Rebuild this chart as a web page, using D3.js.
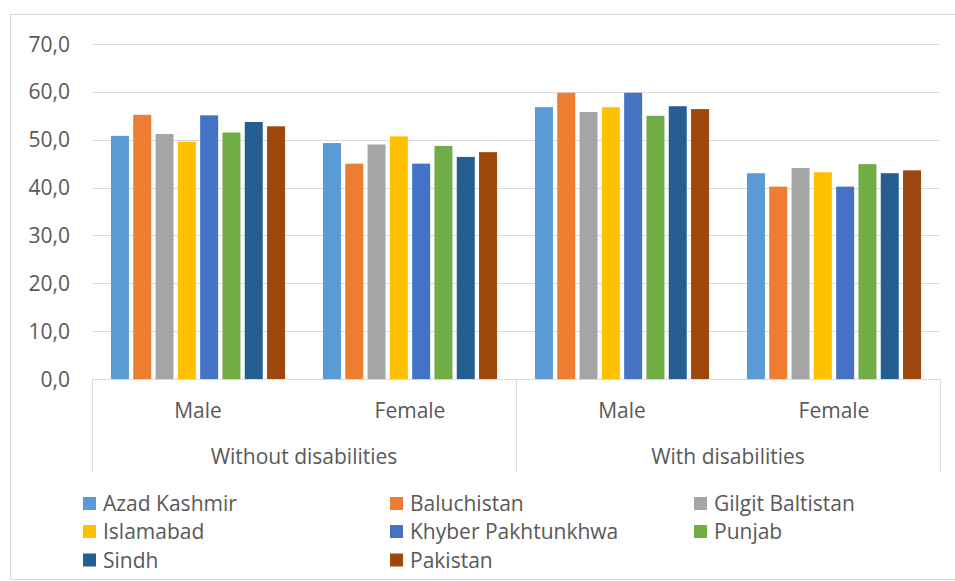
<!DOCTYPE html>
<html>
<head>
<meta charset="utf-8">
<script src="https://cdn.jsdelivr.net/npm/d3@7"></script>
<style>
  html, body { margin: 0; padding: 0; background: #fff; }
  svg { display: block; }
  text { font-family: "Open Sans", sans-serif; fill: #595959; }
</style>
</head>
<body>
<svg id="chart" width="955" height="581"></svg>
<script>
// ---- data ----
const groups = ["Without disabilities", "With disabilities"];
const genders = ["Male", "Female"];
const regions = ["Azad Kashmir", "Baluchistan", "Gilgit Baltistan", "Islamabad",
                 "Khyber Pakhtunkhwa", "Punjab", "Sindh", "Pakistan"];
const colors = ["#5B9BD5", "#ED7D31", "#A5A5A5", "#FFC000", "#4472C4", "#70AD47", "#255E91", "#9E480E"];
// values per region, in category order: [Without-Male, Without-Female, With-Male, With-Female]
const azadKashmir     = [50.8, 49.3, 56.8, 43.0];
const baluchistan     = [55.2, 45.0, 59.8, 40.2];
const gilgitBaltistan = [51.2, 49.0, 55.8, 44.1];
const islamabad       = [49.6, 50.7, 56.8, 43.2];
const khyber          = [55.1, 45.0, 59.8, 40.2];
const punjab          = [51.5, 48.7, 55.0, 44.9];
const sindh           = [53.7, 46.4, 57.0, 43.0];
const pakistan        = [52.8, 47.4, 56.4, 43.6];
const yTicks = [0, 10, 20, 30, 40, 50, 60, 70];

const seriesValues = [azadKashmir, baluchistan, gilgitBaltistan, islamabad, khyber, punjab, sindh, pakistan];
const categories = [];
groups.forEach(g => genders.forEach(s => categories.push({ group: g, gender: s, key: g + "|" + s })));

// ---- layout ----
const svg = d3.select("#chart");
const plot = { left: 92, right: 940, top: 44, bottom: 379 };
const gridColor = "#D9D9D9";
const fontSize = 21;

// outer chart border
svg.append("rect")
  .attr("x", 10.5).attr("y", 14.5)
  .attr("width", 960).attr("height", 565)
  .attr("fill", "none").attr("stroke", gridColor).attr("stroke-width", 1);

const y = d3.scaleLinear().domain([0, 70]).range([plot.bottom, plot.top]);
const x0 = d3.scaleBand().domain(categories.map(c => c.key)).range([plot.left, plot.right]).padding(0);
const x1 = d3.scaleBand().domain(regions).range([0, x0.bandwidth()])
  .paddingInner(0.193).paddingOuter(0.85);
const xg = d3.scaleBand().domain(groups).range([plot.left, plot.right]).padding(0);

// gridlines
svg.append("g").selectAll("line").data(yTicks.filter(t => t > 0)).join("line")
  .attr("x1", plot.left).attr("x2", plot.right)
  .attr("y1", d => Math.round(y(d)) + 0.5).attr("y2", d => Math.round(y(d)) + 0.5)
  .attr("stroke", gridColor).attr("stroke-width", 1);

// y tick labels
svg.append("g").selectAll("text").data(yTicks).join("text")
  .attr("x", 70).attr("y", d => y(d) + 7.5)
  .attr("text-anchor", "end")
  .attr("font-size", fontSize)
  .text(d => d3.format(".1f")(d).replace(".", ","));

// bars
const catG = svg.append("g").selectAll("g").data(categories).join("g")
  .attr("transform", d => `translate(${x0(d.key)},0)`);
catG.selectAll("rect")
  .data((d, ci) => regions.map((r, ri) => ({ region: r, value: seriesValues[ri][ci], color: colors[ri] })))
  .join("rect")
  .attr("x", d => x1(d.region))
  .attr("width", x1.bandwidth())
  .attr("y", d => y(d.value))
  .attr("height", d => y(0) - y(d.value))
  .attr("fill", d => d.color);

// category axis
const axisBottom = 472;
const ax = svg.append("g").attr("stroke", gridColor).attr("stroke-width", 1);
ax.append("line").attr("x1", plot.left).attr("x2", plot.right)
  .attr("y1", plot.bottom + 0.5).attr("y2", plot.bottom + 0.5);
const sepX = [plot.left, xg(groups[1]), plot.right];
ax.selectAll("line.sep").data(sepX).join("line").attr("class", "sep")
  .attr("x1", d => Math.round(d) + 0.5).attr("x2", d => Math.round(d) + 0.5)
  .attr("y1", plot.bottom).attr("y2", axisBottom);

svg.append("g").selectAll("text").data(categories).join("text")
  .attr("x", d => x0(d.key) + x0.bandwidth() / 2)
  .attr("y", 417.5)
  .attr("text-anchor", "middle")
  .attr("font-size", fontSize)
  .text(d => d.gender);

svg.append("g").selectAll("text").data(groups).join("text")
  .attr("x", d => xg(d) + xg.bandwidth() / 2)
  .attr("y", 463.5)
  .attr("text-anchor", "middle")
  .attr("font-size", fontSize)
  .text(d => d);

// legend
const colX = [83, 390, 694];
const rowY = [503.5, 531.5, 560];
const lg = svg.append("g").selectAll("g").data(regions).join("g")
  .attr("transform", (d, i) => `translate(${colX[i % 3]},${rowY[Math.floor(i / 3)]})`);
lg.append("rect").attr("x", 0).attr("y", -6.5).attr("width", 13).attr("height", 13)
  .attr("fill", (d, i) => colors[i]);
lg.append("text").attr("x", 20).attr("y", 7.5)
  .attr("font-size", fontSize)
  .text(d => d);
</script>
</body>
</html>
